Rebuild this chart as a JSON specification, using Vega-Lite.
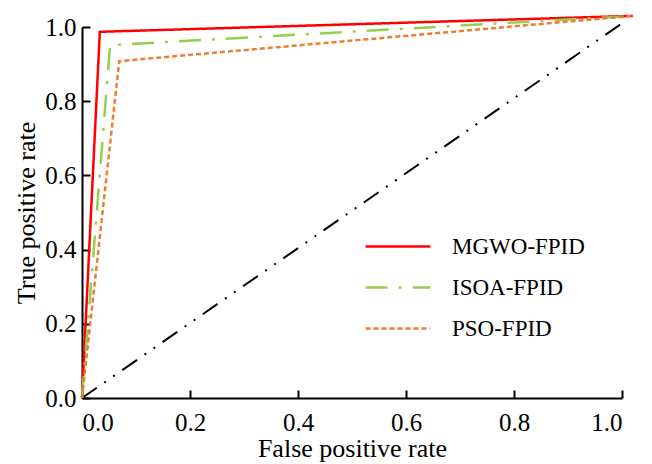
{
  "$schema": "https://vega.github.io/schema/vega-lite/v6.json",
  "width": 540,
  "height": 371,
  "autosize": {"type": "none"},
  "padding": {"left": 82, "top": 27, "right": 30, "bottom": 66},
  "background": "white",
  "config": {
    "view": {"stroke": null},
    "font": "Liberation Serif, Times New Roman, serif",
    "axis": {
      "grid": false,
      "domainColor": "black",
      "domainWidth": 2,
      "tickColor": "black",
      "tickWidth": 2,
      "tickSize": -8,
      "labelFont": "Liberation Serif, Times New Roman, serif",
      "labelFontSize": 25,
      "labelColor": "black",
      "titleFont": "Liberation Serif, Times New Roman, serif",
      "titleFontSize": 26,
      "titleFontWeight": "normal",
      "titleColor": "black"
    },
    "legend": {
      "labelFont": "Liberation Serif, Times New Roman, serif"
    }
  },
  "datasets": {
    "roc": [
      {"fpr": 0.0, "tpr": 0.0, "method": "MGWO-FPID", "order": 0},
      {"fpr": 0.033, "tpr": 0.987, "method": "MGWO-FPID", "order": 1},
      {"fpr": 1.02, "tpr": 1.03, "method": "MGWO-FPID", "order": 2},
      {"fpr": 0.0, "tpr": 0.0, "method": "ISOA-FPID", "order": 0},
      {"fpr": 0.052, "tpr": 0.951, "method": "ISOA-FPID", "order": 1},
      {"fpr": 1.02, "tpr": 1.03, "method": "ISOA-FPID", "order": 2},
      {"fpr": 0.0, "tpr": 0.0, "method": "PSO-FPID", "order": 0},
      {"fpr": 0.069, "tpr": 0.908, "method": "PSO-FPID", "order": 1},
      {"fpr": 1.02, "tpr": 1.03, "method": "PSO-FPID", "order": 2}
    ],
    "diag": [
      {"fpr": 0.0, "tpr": 0.0},
      {"fpr": 1.01, "tpr": 1.02}
    ]
  },
  "layer": [
    {
      "data": {"name": "diag"},
      "mark": {"type": "line", "color": "black", "strokeWidth": 2, "strokeDash": [18, 9, 2, 9, 2, 9], "clip": false},
      "encoding": {
        "x": {"field": "fpr", "type": "quantitative", "scale": {"domain": [0, 1], "nice": false},
          "axis": {"values": [0, 0.2, 0.4, 0.6, 0.8, 1.0], "format": ".1f", "title": "False positive rate", "labelPadding": 20, "titlePadding": 0}},
        "y": {"field": "tpr", "type": "quantitative", "scale": {"domain": [0, 1], "nice": false},
          "axis": {"values": [0, 0.1, 0.2, 0.3, 0.4, 0.5, 0.6, 0.7, 0.8, 0.9, 1.0],
            "labelExpr": "round(datum.value*10) % 2 == 0 ? format(datum.value, '.1f') : ''",
            "title": "True positive rate", "labelPadding": 14, "titlePadding": 5}}
      }
    },
    {
      "data": {"name": "roc"},
      "mark": {"type": "line", "strokeWidth": 2.5, "clip": false},
      "encoding": {
        "x": {"field": "fpr", "type": "quantitative"},
        "y": {"field": "tpr", "type": "quantitative"},
        "order": {"field": "order", "type": "quantitative"},
        "color": {"field": "method", "type": "nominal",
          "scale": {"domain": ["MGWO-FPID", "ISOA-FPID", "PSO-FPID"], "range": ["#ff0000", "#92d050", "#ed7d31"]},
          "legend": {"title": null, "orient": "none", "legendX": 282, "legendY": 199,
            "symbolType": "stroke", "symbolSize": 4200, "symbolStrokeWidth": 2.5,
            "labelFontSize": 23, "labelColor": "black", "clipHeight": 41,
            "rowPadding": 0, "labelOffset": 20}},
        "strokeDash": {"field": "method", "type": "nominal",
          "scale": {"domain": ["MGWO-FPID", "ISOA-FPID", "PSO-FPID"], "range": [[1, 0], [22, 11, 3, 11], [5, 3]]},
          "legend": {"title": null, "orient": "none", "legendX": 282, "legendY": 199,
            "symbolType": "stroke", "symbolSize": 4200, "symbolStrokeWidth": 2.5,
            "labelFontSize": 23, "labelColor": "black", "clipHeight": 41,
            "rowPadding": 0, "labelOffset": 20}}
      }
    }
  ]
}
